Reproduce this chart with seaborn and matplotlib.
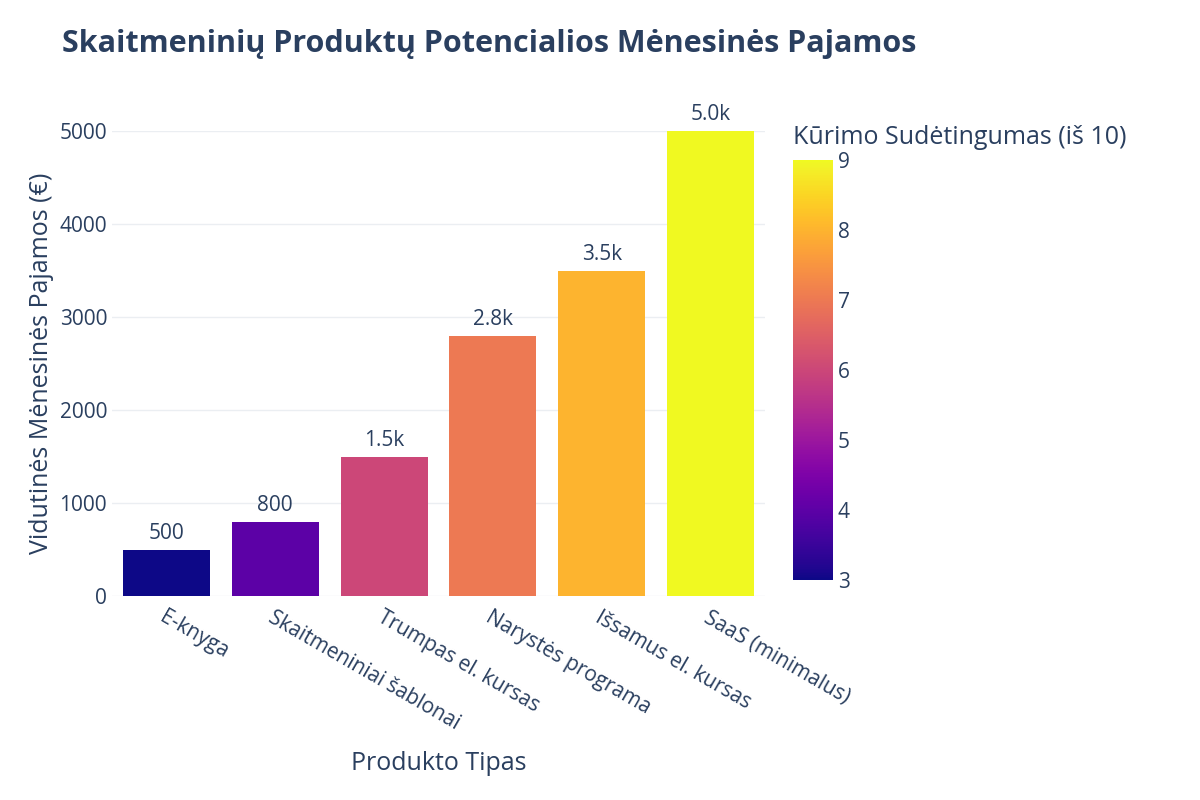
import matplotlib
matplotlib.use("Agg")
import matplotlib.pyplot as plt
import seaborn as sns
import pandas as pd

produktai = ["E-knyga", "Skaitmeniniai šablonai", "Trumpas el. kursas",
             "Narystės programa", "Išsamus el. kursas", "SaaS (minimalus)"]
pajamos = [500, 800, 1500, 2800, 3500, 5000]
sudetingumas = [3, 4, 6, 7, 8, 9]
etiketes = ["500", "800", "1.5k", "2.8k", "3.5k", "5.0k"]

df = pd.DataFrame({"produktas": produktai, "pajamos": pajamos, "sud": sudetingumas})

plt.rcParams["font.family"] = "Open Sans"
cmap = plt.get_cmap("plasma")
norm = matplotlib.colors.Normalize(vmin=3, vmax=9)
spalvos = [cmap(norm(v)) for v in sudetingumas]

fig = plt.figure(figsize=(12, 8), dpi=100)
ax = fig.add_axes([112 / 1200, 1 - 596 / 800, 653 / 1200, 465 / 800])
sns.barplot(data=df, x="produktas", y="pajamos", hue="produktas", palette=spalvos,
            legend=False, width=0.8, ax=ax, saturation=1)

for i, (v, t) in enumerate(zip(pajamos, etiketes)):
    ax.text(i, v + 60, t, ha="center", va="bottom", fontsize=15, color="#2a3f5f")

ax.set_ylim(0, 5000)
ax.set_yticks([0, 1000, 2000, 3000, 4000, 5000])
ax.grid(axis="y", color="#ebeef2", linewidth=1)
ax.set_axisbelow(True)
for s in ax.spines.values():
    s.set_visible(False)
ax.tick_params(length=0, labelsize=15, colors="#2a3f5f")
ax.tick_params(axis="x", pad=8)
plt.setp(ax.get_xticklabels(), rotation=-30, ha="left", rotation_mode="anchor")
ax.set_xlabel("Produkto Tipas", fontsize=18, color="#2a3f5f", labelpad=12)
ax.set_ylabel("Vidutinės Mėnesinės Pajamos (€)", fontsize=18, color="#2a3f5f")

fig.text(0.052, 0.945, "Skaitmeninių Produktų Potencialios Mėnesinės Pajamos",
         fontsize=22, fontweight="bold", color="#2a3f5f", va="center")

cax = fig.add_axes([793 / 1200, 1 - 580 / 800, 40 / 1200, 420 / 800])
cb = fig.colorbar(matplotlib.cm.ScalarMappable(norm=norm, cmap=cmap), cax=cax)
cb.outline.set_visible(False)
cb.ax.tick_params(length=0, labelsize=15, colors="#2a3f5f")
fig.text(793 / 1200, 1 - 138 / 800, "Kūrimo Sudėtingumas (iš 10)", fontsize=18,
         color="#2a3f5f", va="center")

fig.savefig("out.png")
